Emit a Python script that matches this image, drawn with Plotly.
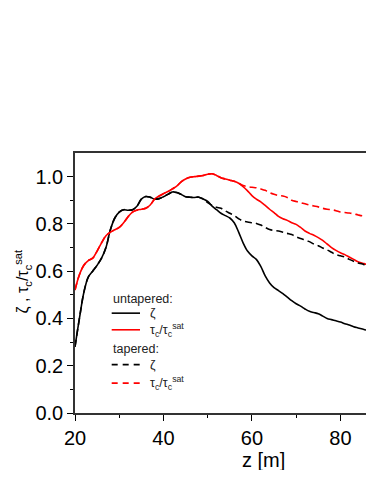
import plotly.graph_objects as go

# z positions along the undulator [m]
z = list(range(20, 89))

# untapered: bunching zeta
zeta_untapered = [
    0.28, 0.40, 0.51, 0.575, 0.60, 0.625, 0.655, 0.70, 0.775, 0.825,
    0.85, 0.86, 0.858, 0.86, 0.875, 0.905, 0.916, 0.913, 0.905, 0.907,
    0.915, 0.925, 0.935, 0.933, 0.925, 0.915, 0.913, 0.912, 0.913, 0.905,
    0.895, 0.875, 0.86, 0.845, 0.835, 0.825, 0.805, 0.765, 0.72, 0.685,
    0.665, 0.65, 0.62, 0.58, 0.55, 0.53, 0.518, 0.505, 0.49, 0.475,
    0.462, 0.452, 0.44, 0.43, 0.425, 0.42, 0.41, 0.40, 0.395, 0.39,
    0.385, 0.378, 0.372, 0.365, 0.36, 0.355, 0.35, 0.345, 0.343,
]

# untapered: tau_c / tau_c^sat
tau_untapered = [
    0.52, 0.585, 0.625, 0.645, 0.655, 0.685, 0.72, 0.75, 0.765, 0.775,
    0.785, 0.805, 0.83, 0.85, 0.858, 0.862, 0.866, 0.88, 0.905, 0.918,
    0.928, 0.937, 0.948, 0.96, 0.978, 0.99, 0.997, 1.0, 1.002, 1.005,
    1.01, 1.012, 1.005, 0.995, 0.99, 0.985, 0.98, 0.972, 0.958, 0.94,
    0.92, 0.905, 0.893, 0.878, 0.862, 0.848, 0.832, 0.822, 0.815, 0.805,
    0.798, 0.785, 0.77, 0.76, 0.752, 0.742, 0.73, 0.715, 0.70, 0.688,
    0.678, 0.67, 0.66, 0.65, 0.64, 0.634, 0.628, 0.62, 0.615,
]

# tapered: identical to untapered before the taper starts
zeta_tapered = zeta_untapered[:30] + [
    0.89, 0.878, 0.87, 0.866, 0.855, 0.845, 0.835, 0.822, 0.812, 0.808,
    0.805, 0.802, 0.795, 0.785, 0.776, 0.772, 0.77, 0.765, 0.76, 0.755,
    0.745, 0.738, 0.732, 0.725, 0.715, 0.708, 0.698, 0.69, 0.68, 0.67,
    0.665, 0.66, 0.65, 0.642, 0.635, 0.63, 0.622, 0.615, 0.612,
]

tau_tapered = tau_untapered[:38] + [
    0.962, 0.958, 0.955, 0.953, 0.948, 0.942, 0.932, 0.925, 0.92, 0.918,
    0.912, 0.90, 0.895, 0.89, 0.885, 0.88, 0.876, 0.872, 0.866, 0.862,
    0.86, 0.856, 0.85, 0.848, 0.846, 0.843, 0.838, 0.834, 0.833, 0.831,
    0.83,
]

TAU_LABEL = "τ<sub>c</sub>/τ<sub>c</sub><sup>sat</sup>"
FONT = "Liberation Sans, Arial, sans-serif"
CURVE_DASH = "7px,4px"

series = [
    (zeta_untapered, "ζ", "black", "solid"),
    (tau_untapered, TAU_LABEL, "red", "solid"),
    (zeta_tapered, "ζ", "black", CURVE_DASH),
    (tau_tapered, TAU_LABEL, "red", CURVE_DASH),
]

fig = go.Figure()
for values, name, color, dash in series:
    fig.add_trace(go.Scatter(
        x=z, y=values, mode="lines", name=name, showlegend=False,
        line=dict(color=color, dash=dash, width=1.6, shape="spline"),
    ))

# hand-built legend (plotly's own legend rows are too tall here)
legend_rows = [
    ("title", "untapered:", None, None, 0.439),
    ("item", "ζ", "black", "solid", 0.384),
    ("item", TAU_LABEL, "red", "solid", 0.320),
    ("title", "tapered:", None, None, 0.247),
    ("item", "ζ", "black", "6px,5px", 0.186),
    ("item", TAU_LABEL, "red", "6px,5px", 0.115),
]
for kind, text, color, dash, ypos in legend_rows:
    if kind == "title":
        fig.add_annotation(x=0.122, y=ypos, xref="paper", yref="paper",
                           text=text, showarrow=False, xanchor="left", yanchor="middle",
                           font=dict(size=12.5, color="#222"))
    else:
        fig.add_shape(type="line", xref="paper", yref="paper",
                      x0=0.1227, x1=0.2174, y0=ypos, y1=ypos,
                      line=dict(color=color, dash=dash, width=1.6))
        fig.add_annotation(x=0.244, y=ypos, xref="paper", yref="paper",
                           text=text, showarrow=False, xanchor="left", yanchor="middle",
                           font=dict(size=12.5, color="#222"))

# axis titles as annotations so they sit where the original has them
fig.add_annotation(x=-0.174, y=0.506, xref="paper", yref="paper",
                   text="ζ , " + TAU_LABEL, textangle=-90, showarrow=False,
                   xanchor="center", yanchor="middle", font=dict(size=16))
fig.add_annotation(x=0.629, y=-0.179, xref="paper", yref="paper",
                   text="z [m]", showarrow=False,
                   xanchor="center", yanchor="middle", font=dict(size=20))

# page body has an 8px margin; keep the figure inside the window so no scrollbar appears
fig.update_layout(
    width=366, height=462,
    margin=dict(l=67, r=0, t=145, b=57, autoexpand=False),
    paper_bgcolor="white", plot_bgcolor="white",
    font=dict(family=FONT, color="black"),
    showlegend=False,
    xaxis=dict(
        range=[20, 87.6], tickvals=[20, 40, 60, 80],
        ticks="outside", ticklen=6, tickwidth=1.2, tickcolor="black",
        minor=dict(tickvals=[30, 50, 70], ticks="outside", ticklen=3, tickcolor="black"),
        showline=True, linecolor="#333", linewidth=1.5, mirror=True,
        showgrid=False, zeroline=False, automargin=False,
        tickfont=dict(size=20),
    ),
    yaxis=dict(
        range=[0, 1.1], tickvals=[0, 0.2, 0.4, 0.6, 0.8, 1.0],
        tickformat=".1f",
        ticks="outside", ticklen=6, tickwidth=1.2, tickcolor="black",
        minor=dict(tickvals=[0.1, 0.3, 0.5, 0.7, 0.9], ticks="outside", ticklen=3, tickcolor="black"),
        showline=True, linecolor="#333", linewidth=1.5,
        showgrid=False, zeroline=False, automargin=False,
        tickfont=dict(size=20),
    ),
)

fig.write_html("out.html")
